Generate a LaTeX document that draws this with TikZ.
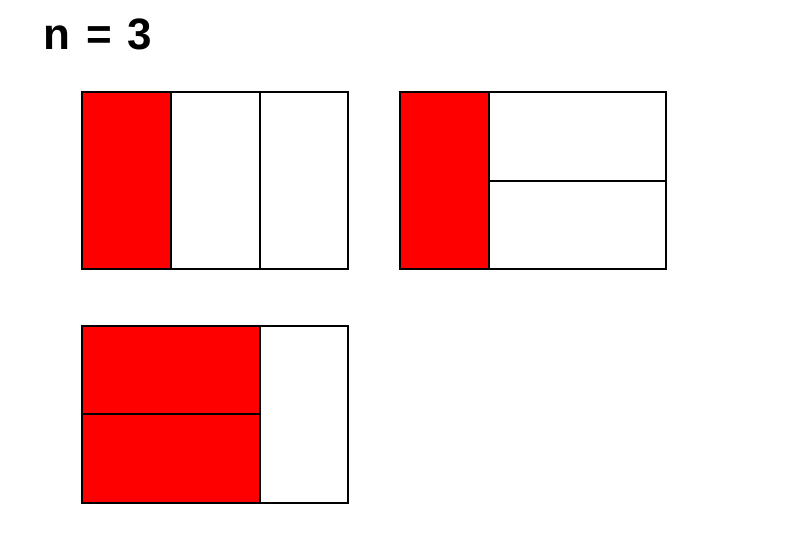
\documentclass[tikz,border=0pt]{standalone}
\usepackage{fontspec}
\setmainfont{Liberation Sans}
\begin{document}
\begin{tikzpicture}[x=1pt,y=-1pt,
  cell/.style={draw=black,line width=1.1pt},
  redcell/.style={cell,fill=red},
  whitecell/.style={cell,fill=white},
  titletxt/.style={anchor=base west,inner sep=0pt,font=\fontsize{44}{50}\selectfont\bfseries}]
\useasboundingbox (0,0) rectangle (800,540);
\node[titletxt] (tn) at (43,50) {n};
\node[titletxt] (teq) at (86,50) {=};
\node[titletxt] (t3) at (127,50) {3};
% first
\draw[redcell] (82,92) rectangle (171,269);
\draw[whitecell] (171,92) rectangle (260,269);
\draw[whitecell] (260,92) rectangle (348,269);
% second
\draw[redcell] (400,92) rectangle (489,269);
\draw[whitecell] (489,92) rectangle (666,181);
\draw[whitecell] (489,181) rectangle (666,269);
% third
\draw[redcell] (82,326) rectangle (260,414);
\draw[redcell] (82,414) rectangle (260,503);
\draw[whitecell] (260,326) rectangle (348,503);
\end{tikzpicture}
\end{document}
